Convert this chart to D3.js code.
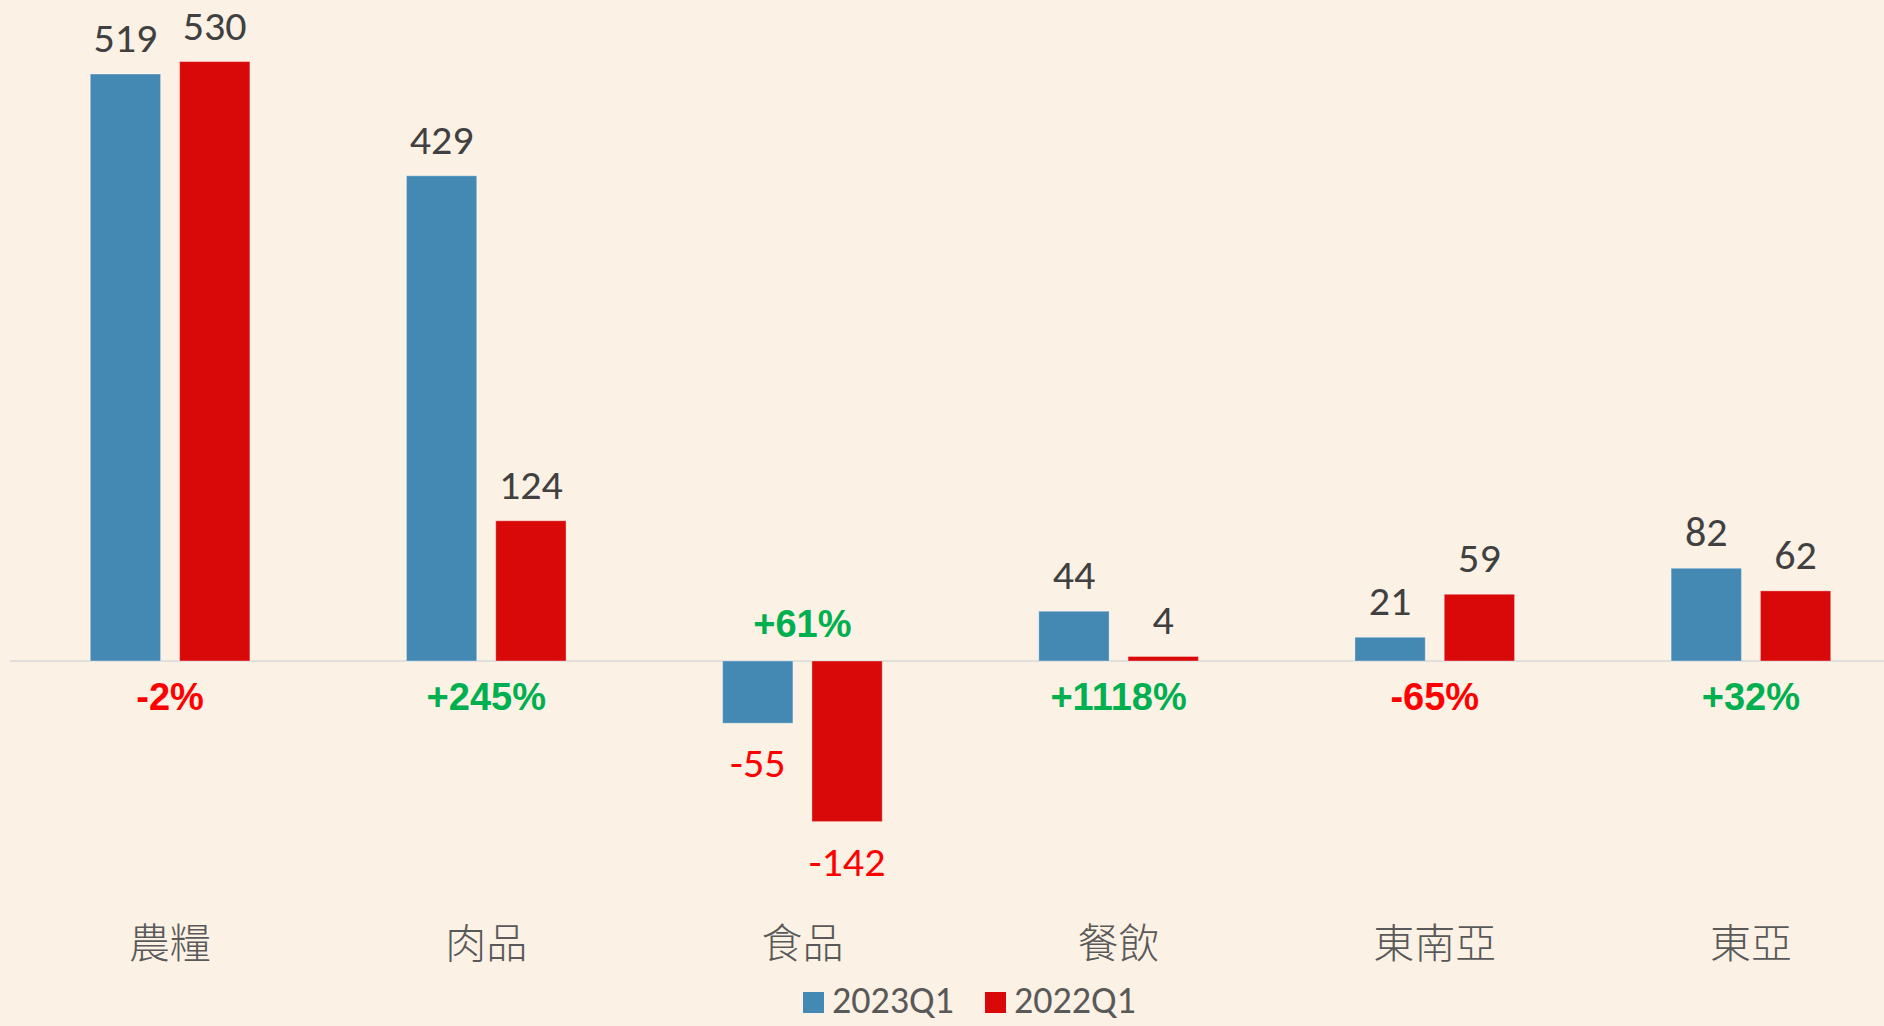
<!DOCTYPE html>
<html>
<head>
<meta charset="utf-8">
<script src="https://cdn.jsdelivr.net/npm/d3@7"></script>
<style>
  html, body { margin: 0; padding: 0; background: #fcf1e5; }
  svg { display: block; }
</style>
</head>
<body>
<div id="chart"></div>
<script>
const categories = ['農糧', '肉品', '食品', '餐飲', '東南亞', '東亞'];
const series = ['2023Q1', '2022Q1'];
const q2023 = [519, 429, -55, 44, 21, 82];
const q2022 = [530, 124, -142, 4, 59, 62];
const changes = ['-2%', '+245%', '+61%', '+1118%', '-65%', '+32%'];

const W = 1884, H = 1026;
const colors = { '2023Q1': '#4389b4', '2022Q1': '#d90909' };
const numFont = "Carlito, Calibri, 'Open Sans', sans-serif";

const svg = d3.select('#chart').append('svg')
  .attr('width', W)
  .attr('height', H);

svg.append('rect').attr('width', W).attr('height', H).attr('fill', '#fcf1e5');

// scales
const y = d3.scaleLinear()
  .domain([-200, 600])
  .range([661 + 200 * 1.131, 661 - 600 * 1.131]);

const x0 = d3.scaleBand()
  .domain(categories)
  .range([12, 1909]);

const x1 = d3.scaleBand()
  .domain(series)
  .range([-79.8, 79.8])
  .paddingInner(0.2128);

const rows = categories.map((c, i) => ({
  cat: c,
  vals: [
    { s: '2023Q1', v: q2023[i] },
    { s: '2022Q1', v: q2022[i] }
  ],
  change: changes[i]
}));

// zero line
svg.append('line')
  .attr('x1', 10).attr('x2', W)
  .attr('y1', y(0)).attr('y2', y(0))
  .attr('stroke', '#d9d9d9')
  .attr('stroke-width', 1.5);

const groups = svg.selectAll('.grp')
  .data(rows)
  .enter()
  .append('g')
  .attr('class', 'grp')
  .attr('transform', d => `translate(${x0(d.cat) + x0.bandwidth() / 2},0)`);

// bars
groups.selectAll('rect')
  .data(d => d.vals)
  .enter()
  .append('rect')
  .attr('x', d => x1(d.s))
  .attr('y', d => y(Math.max(0, d.v)))
  .attr('width', x1.bandwidth())
  .attr('height', d => Math.abs(y(d.v) - y(0)))
  .attr('fill', d => colors[d.s])
  .attr('stroke', 'rgba(255,255,255,0.35)')
  .attr('stroke-width', 1);

// value labels
groups.selectAll('.val')
  .data(d => d.vals)
  .enter()
  .append('text')
  .attr('class', 'val')
  .attr('x', d => x1(d.s) + x1.bandwidth() / 2)
  .attr('y', d => d.v >= 0 ? y(d.v) - 22 : y(d.v) + 54)
  .attr('text-anchor', 'middle')
  .attr('font-family', numFont)
  .attr('font-size', 42)
  .attr('fill', d => d.v >= 0 ? '#404040' : '#ff0000')
  .text(d => d.v);

// change labels
groups.append('text')
  .attr('x', 0)
  .attr('y', d => d.vals[0].v < 0 ? y(0) - 24 : y(0) + 49)
  .attr('text-anchor', 'middle')
  .attr('font-family', "'Liberation Sans', Arial, sans-serif")
  .attr('font-weight', 'bold')
  .attr('font-size', 38)
  .attr('fill', d => d.change[0] === '-' ? '#ff0000' : '#00b050')
  .text(d => d.change);

// category labels
groups.append('text')
  .attr('x', 0)
  .attr('y', 958)
  .attr('text-anchor', 'middle')
  .attr('font-family', "'Noto Sans CJK TC', sans-serif")
  .attr('font-weight', 300)
  .attr('font-size', 41)
  .attr('fill', '#595959')
  .text(d => d.cat);

// legend
const legendX = [803, 985];
const legend = svg.selectAll('.leg')
  .data(series)
  .enter()
  .append('g')
  .attr('class', 'leg')
  .attr('transform', (d, i) => `translate(${legendX[i]},992)`);

legend.append('rect')
  .attr('width', 21)
  .attr('height', 21)
  .attr('fill', d => colors[d]);

legend.append('text')
  .attr('x', 29)
  .attr('y', 21)
  .attr('font-family', numFont)
  .attr('font-size', 38)
  .attr('fill', '#595959')
  .text(d => d);
</script>
</body>
</html>
